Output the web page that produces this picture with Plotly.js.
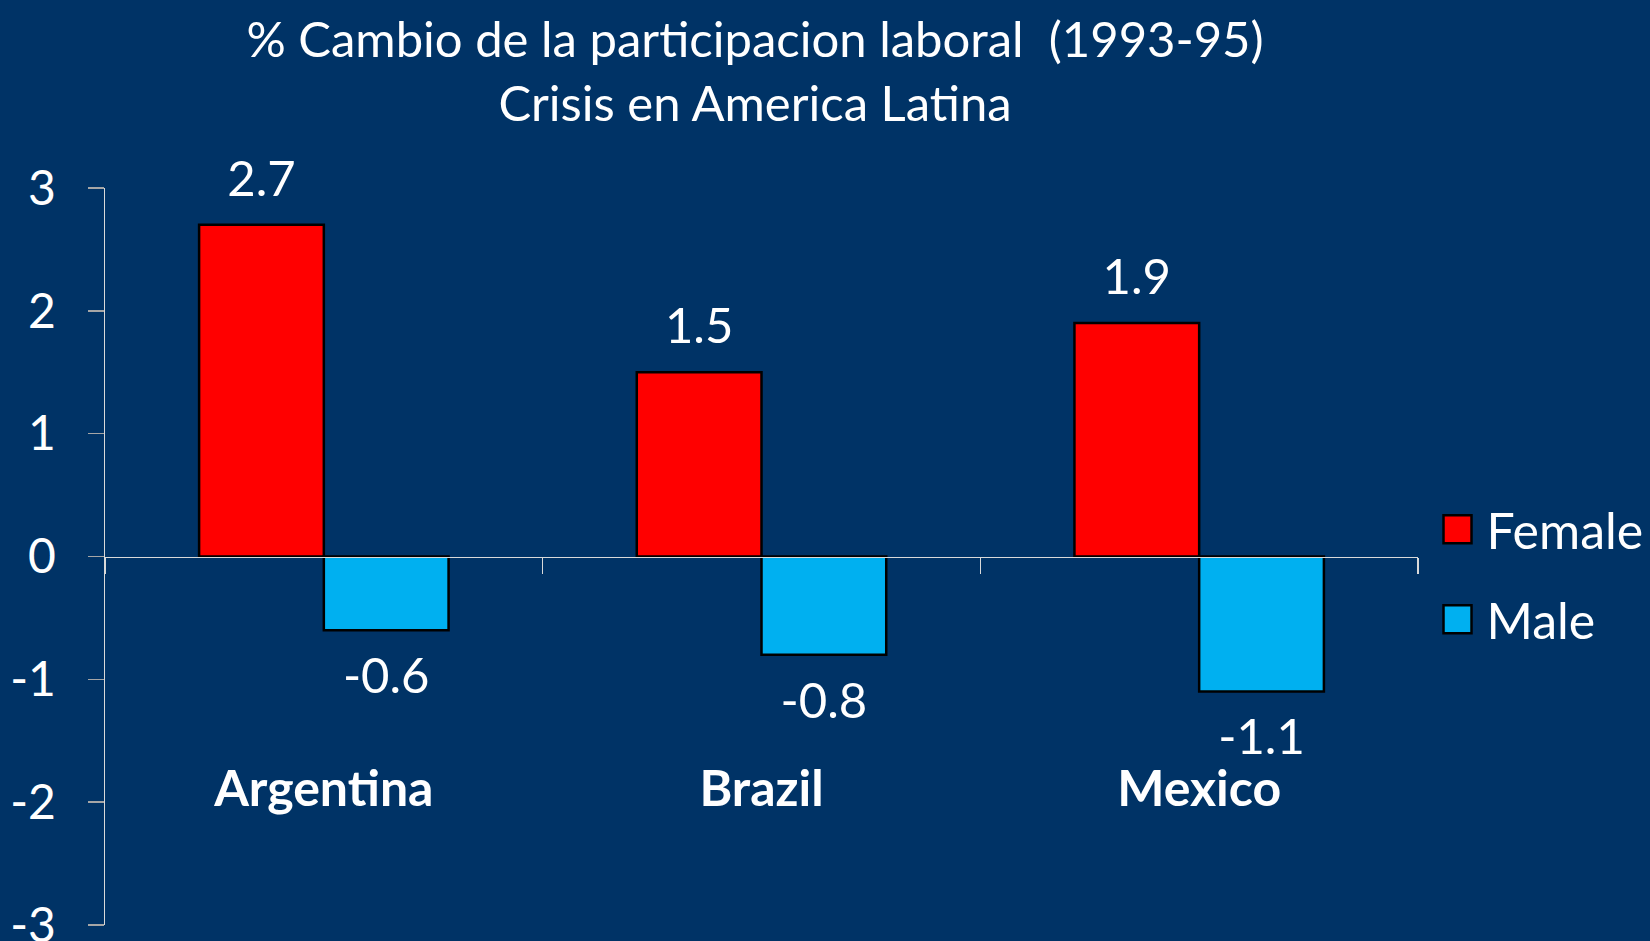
<!DOCTYPE html>
<html>
<head>
<meta charset="utf-8">
<script src="https://cdn.plot.ly/plotly-3.0.1.min.js"></script>
<style>html,body{margin:0;padding:0;background:#003366;overflow:hidden;}#chart{width:1650px;height:941px;}</style>
</head>
<body>
<div id="chart"></div>
<script>
const titleLines = ['% Cambio de la participacion laboral  (1993-95)', 'Crisis en America Latina'];
const countries = ['Argentina', 'Brazil', 'Mexico'];
const seriesNames = ['Female', 'Male'];
const female = [2.7, 1.5, 1.9];
const male = [-0.6, -0.8, -1.1];
const yTicks = [-3, -2, -1, 0, 1, 2, 3];

const FONT = 'Lato, "Open Sans", sans-serif';
const fmt = v => v.toFixed(1);

const traces = [
  {type: 'bar', name: seriesNames[0], x: countries, y: female, offsetgroup: 'f', legendgroup: 'f',
   marker: {color: '#FF0000', line: {color: '#000000', width: 2.5}}, hoverinfo: 'x+y'},
  {type: 'bar', name: seriesNames[1], x: countries, y: male, offsetgroup: 'm', legendgroup: 'm',
   marker: {color: '#00B0F0', line: {color: '#000000', width: 2.5}}, hoverinfo: 'x+y'},
  {type: 'scatter', mode: 'markers+text', x: countries, y: female, offsetgroup: 'f', showlegend: false,
   text: female.map(fmt), textposition: 'top center', textfont: {family: FONT, size: 49, color: '#FFFFFF'},
   marker: {size: 25, opacity: 0}, hoverinfo: 'skip', cliponaxis: false},
  {type: 'scatter', mode: 'markers+text', x: countries, y: male, offsetgroup: 'm', showlegend: false,
   text: male.map(fmt), textposition: 'bottom center', textfont: {family: FONT, size: 49, color: '#FFFFFF'},
   marker: {size: 40, opacity: 0}, hoverinfo: 'skip', cliponaxis: false}
];

const layout = {
  width: 1650, height: 941,
  paper_bgcolor: '#003366', plot_bgcolor: '#003366',
  margin: {l: 105, r: 232, t: 188, b: 16, autoexpand: false},
  font: {family: FONT, color: '#FFFFFF', size: 46},
  title: {text: titleLines.join('<br>'), x: 0.4576, xanchor: 'center', xref: 'container',
          y: 0.939, yanchor: 'top', yref: 'container', font: {family: FONT, size: 49, color: '#FFFFFF'}},
  barmode: 'group', bargap: 0.43, bargroupgap: 0,
  scattermode: 'group',
  showlegend: true,
  legend: {x: 1.008, xanchor: 'left', y: 0.59, yanchor: 'top', font: {family: FONT, size: 50, color: '#FFFFFF'},
           bgcolor: 'rgba(0,0,0,0)', itemwidth: 48, tracegroupgap: 22, traceorder: 'grouped'},
  xaxis: {type: 'category', anchor: 'free', position: 0.5, showline: true, linecolor: '#D9D9D9', linewidth: 1.5,
          ticks: 'outside', tickson: 'boundaries', ticklen: 16, tickcolor: '#D9D9D9', tickwidth: 1.5,
          tickfont: {family: FONT, size: 50, color: '#FFFFFF', weight: 'bold'}, ticklabelstandoff: 188,
          showgrid: false, zeroline: false, fixedrange: true},
  yaxis: {range: [-3, 3], tickvals: yTicks, ticktext: yTicks.map(String), showline: true, linecolor: '#D9D9D9', linewidth: 1.5,
          ticks: 'outside', ticklen: 16, tickcolor: '#A6A6A6', tickwidth: 1.5, ticklabelstandoff: 22,
          ticklabeloverflow: 'allow',
          tickfont: {family: FONT, size: 48, color: '#FFFFFF'}, showgrid: false, zeroline: false, fixedrange: true}
};

Plotly.newPlot('chart', traces, layout, {displayModeBar: false, staticPlot: true}).then(() => {
  document.querySelectorAll('.legend .legendpoints path').forEach(p => {
    p.setAttribute('d', 'M14,14H-14V-14H14Z');
  });
});
</script>
</body>
</html>
